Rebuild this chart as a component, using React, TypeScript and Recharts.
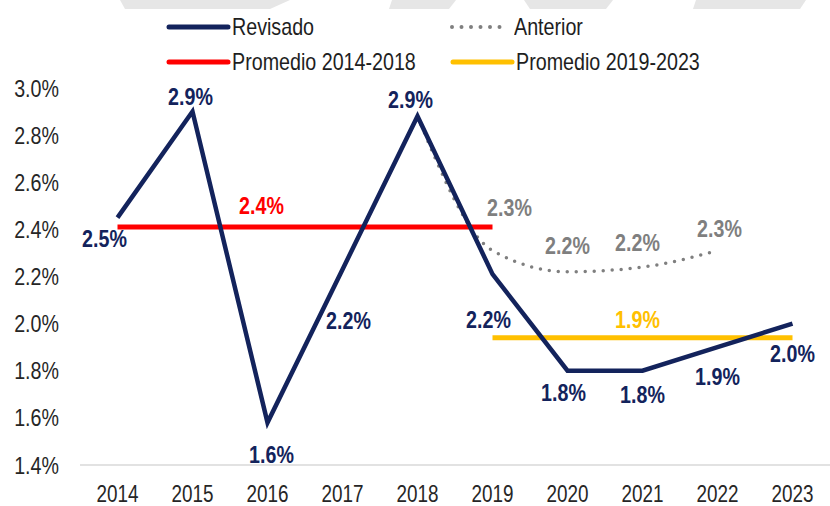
import React from 'react';
import { LineChart, Line, XAxis, YAxis, LabelList } from 'recharts';

const years = ['2014', '2015', '2016', '2017', '2018', '2019', '2020', '2021', '2022', '2023'];
const revisado = [2.45, 2.9, 1.58, 2.23, 2.88, 2.21, 1.8, 1.8, 1.9, 2.0];
const anterior = [null, null, null, null, 2.88, 2.31, 2.22, 2.24, 2.31, null];
const promedio1 = [2.41, 2.41, 2.41, 2.41, 2.41, 2.41, null, null, null, null];
const promedio2 = [null, null, null, null, null, 1.94, 1.94, 1.94, 1.94, 1.94];
const yTicks = [1.4, 1.6, 1.8, 2.0, 2.2, 2.4, 2.6, 2.8, 3.0];
const seriesNames = ['Revisado', 'Anterior', 'Promedio 2014-2018', 'Promedio 2019-2023'];

const data = years.map((y, i) => ({
  year: y,
  revisado: revisado[i],
  anterior: anterior[i],
  promedio1: promedio1[i],
  promedio2: promedio2[i],
}));

const FONT = '"Liberation Sans", Arial, sans-serif';
const SX = 0.82; // horizontal condensing to mimic a narrow face
const NAVY = '#13235c';
const GREY = '#7f7f7f';
const RED = '#ff0000';
const YELLOW = '#ffc000';
const TEXT = '#262626';

// label offsets (dx, dy) relative to each point, per index; null = no label
const revOffsets: ([number, number] | null)[] = [
  [-13, 21], [-2, -15], [4, 32], [6, 51], [-7, -16], [-4, 46], [-4, 22], [0, 24], [0, 30], [0, 30],
];
const antOffsets: ([number, number] | null)[] = [
  null, null, null, null, null, [17, -43], [0, -26], [-5, -24], [2, -22], null,
];
const p1Offsets: ([number, number] | null)[] = [null, null, [-6, -21], null, null, null, null, null, null, null];
const p2Offsets: ([number, number] | null)[] = [null, null, null, null, null, null, null, [-5, -18], null, null];

const makeLabel = (offsets: ([number, number] | null)[], color: string) => (props: any) => {
  const { x, y, value, index } = props;
  const off = offsets[index];
  if (!off || value == null) return null;
  return (
    <g transform={`translate(${x + off[0]},${y + off[1]})`}>
      <text
        transform={`scale(${SX},1)`}
        x={0}
        y={0}
        textAnchor="middle"
        dominantBaseline="central"
        fill={color}
        fontFamily={FONT}
        fontWeight="bold"
        fontSize={24}
      >
        {Number(value).toFixed(1) + '%'}
      </text>
    </g>
  );
};

const XTick = (props: any) => {
  const { x, y, payload } = props;
  return (
    <g transform={`translate(${x},${y})`}>
      <text transform={`scale(${SX},1)`} x={0} y={0} dy="0.71em" textAnchor="middle" fill={TEXT} fontFamily={FONT} fontSize={23}>
        {payload.value}
      </text>
    </g>
  );
};

const YTick = (props: any) => {
  const { x, y, payload } = props;
  return (
    <g transform={`translate(${x},${y})`}>
      <text transform={`scale(${SX},1)`} x={0} y={0} dy="0.355em" textAnchor="end" fill={TEXT} fontFamily={FONT} fontSize={24}>
        {Number(payload.value).toFixed(1) + '%'}
      </text>
    </g>
  );
};

const LegendItem = ({ left, top, color, dotted, label }: any) => (
  <div style={{ position: 'absolute', left, top, display: 'flex', alignItems: 'center', height: 30 }}>
    <svg width={66} height={10} style={{ display: 'block' }}>
      {dotted ? (
        <line x1={4} y1={5} x2={58} y2={5} stroke={color} strokeWidth={4} strokeDasharray="0 9.5" strokeLinecap="round" />
      ) : (
        <line x1={3} y1={5} x2={62} y2={5} stroke={color} strokeWidth={5} strokeLinecap="round" />
      )}
    </svg>
    <span
      style={{
        fontFamily: FONT,
        fontSize: 24,
        color: '#1e1e1e',
        whiteSpace: 'nowrap',
        display: 'inline-block',
        transform: `scaleX(${SX})`,
        transformOrigin: 'left center',
      }}
    >
      {label}
    </span>
  </div>
);

export default function App() {
  return (
    <div style={{ position: 'absolute', left: 0, top: 0, width: 830, height: 506, background: '#fff', overflow: 'hidden' }}>
      <svg width={830} height={12} style={{ position: 'absolute', left: 0, top: 0 }}>
        <polygon points="120,0 290,0 270,9 125,9" fill="#e6e6e6" />
        <polygon points="392,0 456,0 449,9 389,9" fill="#e6e6e6" />
        <polygon points="524,0 613,0 606,9 530,9" fill="#e6e6e6" />
        <polygon points="696,0 806,0 800,9 693,9" fill="#e6e6e6" />
      </svg>
      <LegendItem left={166} top={12} color={NAVY} label={seriesNames[0]} />
      <LegendItem left={448} top={12} color={GREY} dotted label={seriesNames[1]} />
      <LegendItem left={166} top={47} color={RED} label={seriesNames[2]} />
      <LegendItem left={450} top={47} color={YELLOW} label={seriesNames[3]} />
      <div style={{ position: 'absolute', left: 0, top: 0 }}>
        <LineChart width={830} height={506} data={data} margin={{ top: 88, right: 0, bottom: 0, left: 0 }}>
          <XAxis
            dataKey="year"
            interval={0}
            height={41}
            padding={{ left: 37.5, right: 37.5 }}
            axisLine={{ stroke: '#d9d9d9', strokeWidth: 1.5 }}
            tickLine={false}
            tickSize={0}
            tickMargin={21}
            tick={<XTick />}
          />
          <YAxis
            width={80}
            domain={[1.4, 3.0]}
            ticks={yTicks}
            interval={0}
            axisLine={false}
            tickLine={false}
            tickSize={0}
            tickMargin={21}
            tick={<YTick />}
          />
          <Line
            dataKey="promedio1"
            name={seriesNames[2]}
            stroke={RED}
            strokeWidth={5}
            dot={false}
            activeDot={false}
            isAnimationActive={false}
          >
            <LabelList dataKey="promedio1" content={makeLabel(p1Offsets, RED)} />
          </Line>
          <Line
            dataKey="promedio2"
            name={seriesNames[3]}
            stroke={YELLOW}
            strokeWidth={5}
            dot={false}
            activeDot={false}
            isAnimationActive={false}
          >
            <LabelList dataKey="promedio2" content={makeLabel(p2Offsets, YELLOW)} />
          </Line>
          <Line
            dataKey="anterior"
            name={seriesNames[1]}
            type="monotone"
            stroke={GREY}
            strokeWidth={3.5}
            strokeDasharray="0 9"
            strokeLinecap="round"
            dot={false}
            activeDot={false}
            isAnimationActive={false}
          >
            <LabelList dataKey="anterior" content={makeLabel(antOffsets, GREY)} />
          </Line>
          <Line
            dataKey="revisado"
            name={seriesNames[0]}
            stroke={NAVY}
            strokeWidth={4.5}
            dot={false}
            activeDot={false}
            isAnimationActive={false}
          >
            <LabelList dataKey="revisado" content={makeLabel(revOffsets, NAVY)} />
          </Line>
        </LineChart>
      </div>
    </div>
  );
}
